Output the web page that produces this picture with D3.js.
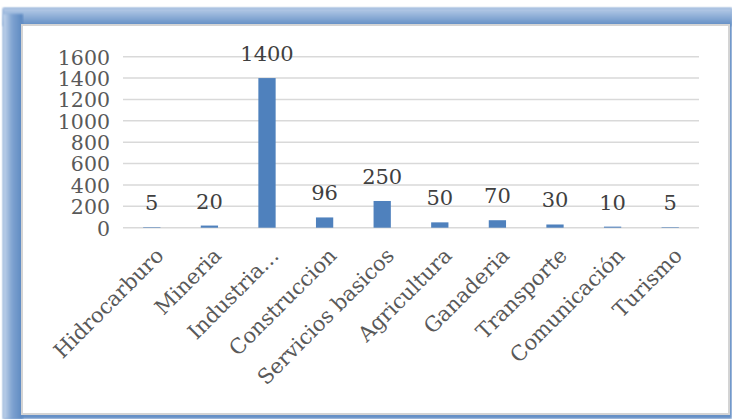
<!DOCTYPE html>
<html>
<head>
<meta charset="utf-8">
<script src="https://cdn.jsdelivr.net/npm/d3@7"></script>
<style>
  html, body { margin: 0; padding: 0; background: #ffffff; }
  svg { display: block; }
</style>
</head>
<body>
<svg id="chart" width="732" height="419"></svg>
<script>
// Sectors and their counts
const categories = ["Hidrocarburo", "Mineria", "Industria…", "Construccion", "Servicios basicos",
                    "Agricultura", "Ganaderia", "Transporte", "Comunicación", "Turismo"];
const values = [5, 20, 1400, 96, 250, 50, 70, 30, 10, 5];
const yTicks = [0, 200, 400, 600, 800, 1000, 1200, 1400, 1600];

const W = 732, H = 419;
const svg = d3.select("#chart");
const defs = svg.append("defs");

// Soft blue frame around the chart
const gTop = defs.append("linearGradient").attr("id", "gTop").attr("x1", 0).attr("y1", 0).attr("x2", 0).attr("y2", 1);
gTop.append("stop").attr("offset", "0%").attr("stop-color", "#b9cde8");
gTop.append("stop").attr("offset", "100%").attr("stop-color", "#5e8bc3");
const gLeft = defs.append("linearGradient").attr("id", "gLeft").attr("x1", 0).attr("y1", 0).attr("x2", 1).attr("y2", 0);
gLeft.append("stop").attr("offset", "0%").attr("stop-color", "#c5d6ec");
gLeft.append("stop").attr("offset", "45%").attr("stop-color", "#7fa3d1");
gLeft.append("stop").attr("offset", "100%").attr("stop-color", "#5a87c0");
defs.append("filter").attr("id", "soft").attr("x", "-5%").attr("y", "-5%").attr("width", "110%").attr("height", "110%")
  .append("feGaussianBlur").attr("stdDeviation", 1);

const frame = svg.append("g");
frame.append("rect").attr("x", 3).attr("y", 8).attr("width", W - 3).attr("height", H - 8)
  .attr("fill", "#6690c6").attr("filter", "url(#soft)");
frame.append("rect").attr("x", 3).attr("y", 8).attr("width", W - 3).attr("height", 18).attr("fill", "url(#gTop)").attr("filter", "url(#soft)");
frame.append("rect").attr("x", 3).attr("y", 14).attr("width", 20).attr("height", H - 14).attr("fill", "url(#gLeft)").attr("filter", "url(#soft)");
frame.append("rect").attr("x", 22).attr("y", 25).attr("width", 707).attr("height", 389)
  .attr("fill", "#ffffff").attr("stroke", "#d4d4d4").attr("stroke-width", 2);

// Plot area
const x0 = 123, x1 = 699, yBase = 227.7, yTop = 56.7;
const x = d3.scaleBand().domain(categories).range([x0, x1]).paddingInner(0.7).paddingOuter(0.35);
const y = d3.scaleLinear().domain([0, 1600]).range([yBase, yTop]);

const font = "'DejaVu Serif', 'Liberation Serif', serif";
const textColor = "#595959";

// Horizontal gridlines
svg.append("g").selectAll("line").data(yTicks).join("line")
  .attr("x1", x0).attr("x2", x1)
  .attr("y1", d => y(d)).attr("y2", d => y(d))
  .attr("stroke", "#d9d9d9").attr("stroke-width", 1.5);

// Y axis labels
const yAxis = svg.append("g").attr("transform", `translate(${x0 - 13},0)`)
  .call(d3.axisLeft(y).tickValues(yTicks).tickSize(0).tickPadding(0).tickFormat(d3.format("d")));
yAxis.select(".domain").remove();
yAxis.selectAll("text").attr("font-family", font).attr("font-size", 20.5)
  .attr("fill", textColor).attr("dy", "0.36em");

// Bars
svg.append("g").selectAll("rect").data(values).join("rect")
  .attr("x", (d, i) => x(categories[i]))
  .attr("y", d => y(d))
  .attr("width", x.bandwidth())
  .attr("height", d => yBase - y(d))
  .attr("fill", "#4f81bd");

// Value labels above the bars
svg.append("g").selectAll("text").data(values).join("text")
  .attr("x", (d, i) => x(categories[i]) + x.bandwidth() / 2)
  .attr("y", d => y(d) - 17)
  .attr("text-anchor", "middle")
  .attr("font-family", font).attr("font-size", 21)
  .attr("fill", "#404040")
  .text(d => d);

// Rotated category labels
svg.append("g").selectAll("text").data(categories).join("text")
  .attr("transform", d => `translate(${x(d) + x.bandwidth() / 2 + 8},${yBase + 24}) rotate(-45)`)
  .attr("text-anchor", "end")
  .attr("dy", "0.35em")
  .attr("font-family", font).attr("font-size", 21)
  .attr("fill", textColor)
  .text(d => d);
</script>
</body>
</html>
